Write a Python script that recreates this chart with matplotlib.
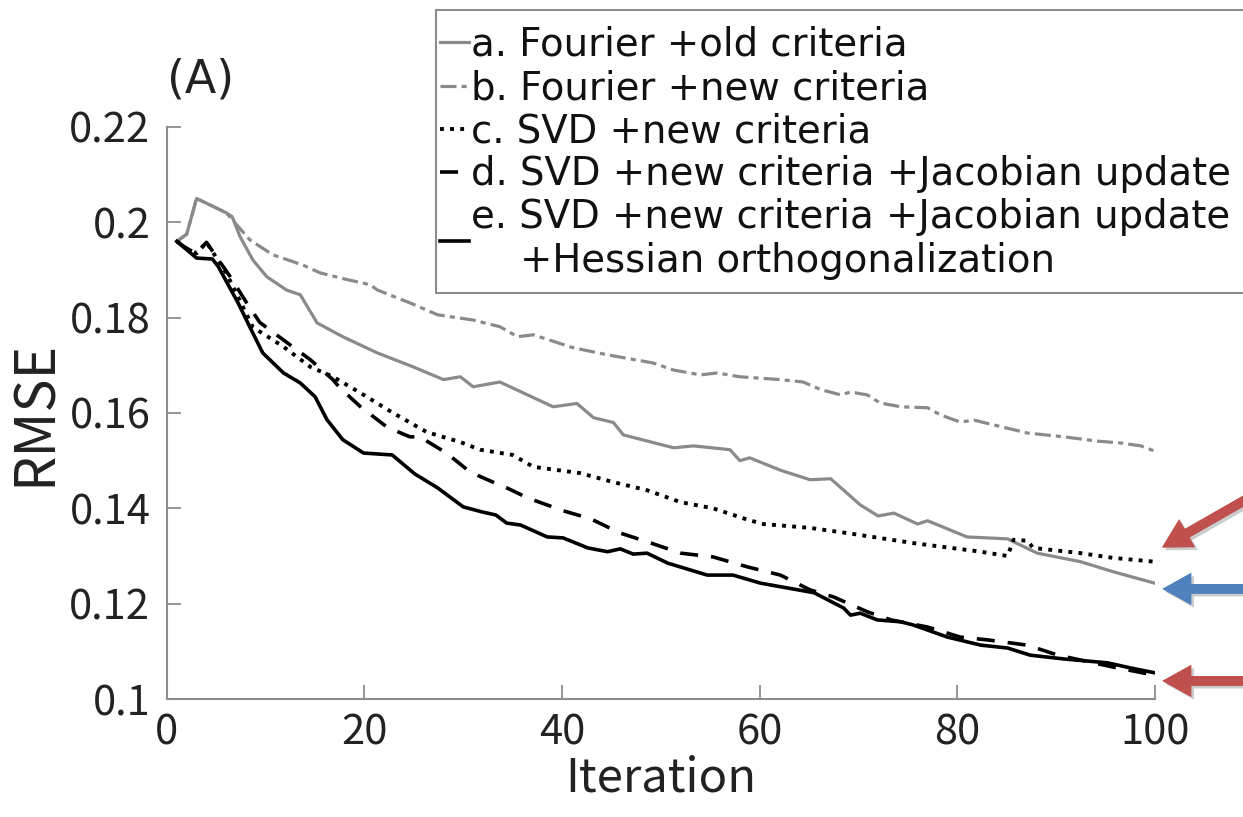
import matplotlib
matplotlib.use("Agg")
import matplotlib.pyplot as plt
from matplotlib import patheffects
from matplotlib.patches import Rectangle

plt.rcParams['font.family'] = ['Noto Sans CJK JP', 'DejaVu Sans']

# ---- data ----
a_x = [1, 2, 3, 6, 6.6, 7.4, 8.7, 10.1, 12.1, 13.5, 15.2, 17.8, 21.3, 24.9, 28, 29.7, 31, 33.7,
       39.1, 41.5, 43.2, 45.2, 46.2, 51.3, 53.3, 57, 58, 59, 62.1, 65.1, 67.2, 70.2, 72, 73.6,
       76, 77, 81, 85.1, 88.1, 92.5, 95.8, 100]
a_y = [0.196, 0.1975, 0.205, 0.202, 0.2012, 0.197, 0.1921, 0.1886, 0.1858, 0.1848, 0.1789, 0.176,
       0.1726, 0.1697, 0.167, 0.1676, 0.1655, 0.1665, 0.1613, 0.162, 0.159, 0.158, 0.1554, 0.1527,
       0.1531, 0.1523, 0.150, 0.1506, 0.148, 0.146, 0.1462, 0.1407, 0.1384, 0.139, 0.1367, 0.1374,
       0.134, 0.1336, 0.1306, 0.1288, 0.1267, 0.1243]

b_x = [1, 2, 3, 6, 8.4, 10.7, 13.8, 15.5, 18.2, 20.6, 21.3, 24.6, 27.4, 31, 33.7, 35.5, 37.1,
       41.1, 44.6, 49.2, 51.3, 54, 55.7, 58, 62.1, 64.4, 66.2, 68.2, 69.2, 70.9, 72.2, 74.3, 77,
       78.3, 80.3, 81.7, 84.1, 87.1, 90.8, 94.2, 96.6, 98.6, 100]
b_y = [0.196, 0.1975, 0.205, 0.202, 0.1963, 0.1932, 0.191, 0.1894, 0.188, 0.1869, 0.1858, 0.1831,
       0.1806, 0.1795, 0.1781, 0.176, 0.1764, 0.1737, 0.1722, 0.1705, 0.169, 0.168, 0.1684, 0.1676,
       0.167, 0.1665, 0.1649, 0.1638, 0.1644, 0.1638, 0.1621, 0.1613, 0.1611, 0.1596, 0.1581,
       0.1585, 0.1573, 0.1558, 0.155, 0.1541, 0.1537, 0.1531, 0.152]

c_x = [1, 2, 3, 4, 6, 8.7, 11.8, 14.5, 16.8, 19.6, 22.9, 26.3, 29.7, 31.7, 35, 37.1, 41.8, 45.2,
       48.6, 52, 55.3, 58.8, 60.4, 65.1, 68.9, 75.6, 82.4, 85.1, 85.7, 87.1, 87.7, 92.5, 95.8, 100]
c_y = [0.196, 0.1945, 0.1935, 0.1958, 0.1894, 0.178, 0.1739, 0.1697, 0.1676, 0.1642, 0.160, 0.156,
       0.1539, 0.1523, 0.1512, 0.1487, 0.1474, 0.1455, 0.1438, 0.1413, 0.140, 0.1376, 0.1367,
       0.1359, 0.1348, 0.1327, 0.1309, 0.130, 0.1334, 0.1332, 0.1317, 0.1306, 0.1296, 0.1288]

d_x = [1, 2, 3, 4, 6.4, 8.1, 9.4, 12.2, 14.5, 16.8, 17.5, 19.6, 22.3, 24.6, 25.6, 28.3, 30.7, 33,
       34.4, 36.5, 40.1, 42.9, 45.9, 48.6, 52, 55.3, 58.8, 62.1, 65.1, 67.5, 70.9, 73.3, 77, 80.3,
       83.1, 87.1, 90.2, 95.8, 100]
d_y = [0.196, 0.1945, 0.1935, 0.1958, 0.1886, 0.183, 0.179, 0.1747, 0.1712, 0.167, 0.1653, 0.1613,
       0.157, 0.155, 0.155, 0.1516, 0.1476, 0.1455, 0.1443, 0.1422, 0.1395, 0.1378, 0.1348, 0.133,
       0.1306, 0.1298, 0.1277, 0.126, 0.1229, 0.1214, 0.1183, 0.1166, 0.1151, 0.113, 0.1124,
       0.1113, 0.1092, 0.1067, 0.105]

e_x = [1, 3, 4.6, 5.2, 7.2, 8.4, 9.7, 11.8, 13.5, 15, 16.2, 17.8, 19.9, 22.8, 25.1, 27.4, 30, 32,
       33.3, 34.4, 35.8, 38.5, 40.1, 42.6, 44.6, 45.9, 47.2, 48.6, 50.7, 54.7, 57.3, 60.1, 62.8,
       65.5, 68.5, 69.2, 70.2, 71.9, 74.3, 75.6, 79, 82.4, 85.1, 87.4, 90.8, 95.2, 97.6, 100]
e_y = [0.196, 0.1925, 0.1923, 0.1907, 0.1831, 0.178, 0.1726, 0.1684, 0.1663, 0.1634, 0.1586,
       0.1544, 0.1516, 0.1512, 0.1472, 0.1443, 0.1403, 0.1392, 0.1386, 0.1369, 0.1365, 0.134,
       0.1338, 0.1317, 0.1309, 0.1315, 0.1304, 0.1306, 0.1285, 0.126, 0.126, 0.1243, 0.1233,
       0.1223, 0.1191, 0.1176, 0.118, 0.1166, 0.1162, 0.1155, 0.113, 0.1113, 0.1107, 0.1092,
       0.1084, 0.1076, 0.1065, 0.1055]

labels = ["a. Fourier +old criteria",
          "b. Fourier +new criteria",
          "c. SVD +new criteria",
          "d. SVD +new criteria +Jacobian update",
          "e. SVD +new criteria +Jacobian update\n    +Hessian orthogonalization"]

x_ticks = [0, 20, 40, 60, 80, 100]
y_ticks = [0.1, 0.12, 0.14, 0.16, 0.18, 0.2, 0.22]
y_tick_labels = ["0.1", "0.12", "0.14", "0.16", "0.18", "0.2", "0.22"]

# ---- figure ----
W, H = 1243, 817
fig = plt.figure(figsize=(W / 100, H / 100), dpi=100)
ax = fig.add_axes([0.1343, 0.1444, 0.7947, 0.7002])

gray = "#8a8a8a"
la, = ax.plot(a_x, a_y, color=gray, lw=2.3, solid_joinstyle='round')
lb, = ax.plot(b_x, b_y, color=gray, lw=2.3, dashes=(5, 1.6, 1.6, 1.6), dash_capstyle='butt')
lc, = ax.plot(c_x, c_y, color="black", lw=2.8, dashes=(1, 1.6), dash_capstyle='butt')
ld, = ax.plot(d_x, d_y, color="black", lw=2.6, dashes=(5, 3.6), dash_capstyle='butt')
le, = ax.plot(e_x, e_y, color="black", lw=2.6, solid_joinstyle='round')

ax.set_xlim(0, 100)
ax.set_ylim(0.1, 0.22)
ax.set_xticks(x_ticks)
ax.set_yticks(y_ticks)
ax.set_yticklabels(y_tick_labels)

for s in ['top', 'right']:
    ax.spines[s].set_visible(False)
for s in ['left', 'bottom']:
    ax.spines[s].set_color("#8c8c8c")
    ax.spines[s].set_linewidth(1.5)
ax.tick_params(direction='in', length=10, width=1.3, color="#8c8c8c",
               labelsize=30, labelcolor="#222222")
ax.tick_params(axis='y', pad=12)
ax.tick_params(axis='x', pad=10)

ax.set_xlabel("Iteration", fontsize=34, color="#222222", labelpad=0)
ax.set_ylabel("RMSE", fontsize=40, color="#222222", labelpad=4)
ax.text(0.0, 1.06, "(A)", transform=ax.transAxes, fontsize=33, color="#222222",
        ha='left', va='baseline', family='DejaVu Sans')

# legend box (frame drawn separately so it runs past the right edge like the reference)
fig.patches.append(Rectangle((436 / W, 1 - 293 / H), (1300 - 436) / W, (293 - 10) / H,
                             transform=fig.transFigure, fill=True, facecolor="white",
                             edgecolor="#8c8c8c", lw=1.5, zorder=4))
leg = fig.legend([la, lb, lc, ld, le], labels, loc='upper left',
                 bbox_to_anchor=(440 / W, 1 - 26 / H),
                 prop={'family': 'DejaVu Sans', 'size': 27.8},
                 frameon=False, handlelength=0.75, handletextpad=0.05, borderpad=0.0,
                 labelspacing=0.13, borderaxespad=0.0)
leg.set_zorder(5)
for t in leg.get_texts():
    t.set_color("#111111")

# ---- arrows pointing at the final values ----
arrow_kw = dict(arrowstyle="simple,head_length=0.9,head_width=1.0,tail_width=0.3",
                mutation_scale=23, lw=0)
shadow = [patheffects.withSimplePatchShadow(offset=(2, -2), shadow_rgbFace="#999999", alpha=0.5),
          patheffects.Normal()]
arrows = [
    ax.annotate("", xy=(100.5, c_y[-1] + 0.0027), xytext=(70, 40), textcoords='offset points',
                arrowprops=dict(color="#c0504d", **arrow_kw), annotation_clip=False),
    ax.annotate("", xy=(100.5, a_y[-1] - 0.0012), xytext=(70, 0), textcoords='offset points',
                arrowprops=dict(color="#4f81bd", **arrow_kw), annotation_clip=False),
    ax.annotate("", xy=(100.5, e_y[-1] - 0.0017), xytext=(70, 0), textcoords='offset points',
                arrowprops=dict(color="#c0504d", **arrow_kw), annotation_clip=False),
]
for ann in arrows:
    ann.arrow_patch.set_path_effects(shadow)

fig.savefig("out.png", dpi=100)
